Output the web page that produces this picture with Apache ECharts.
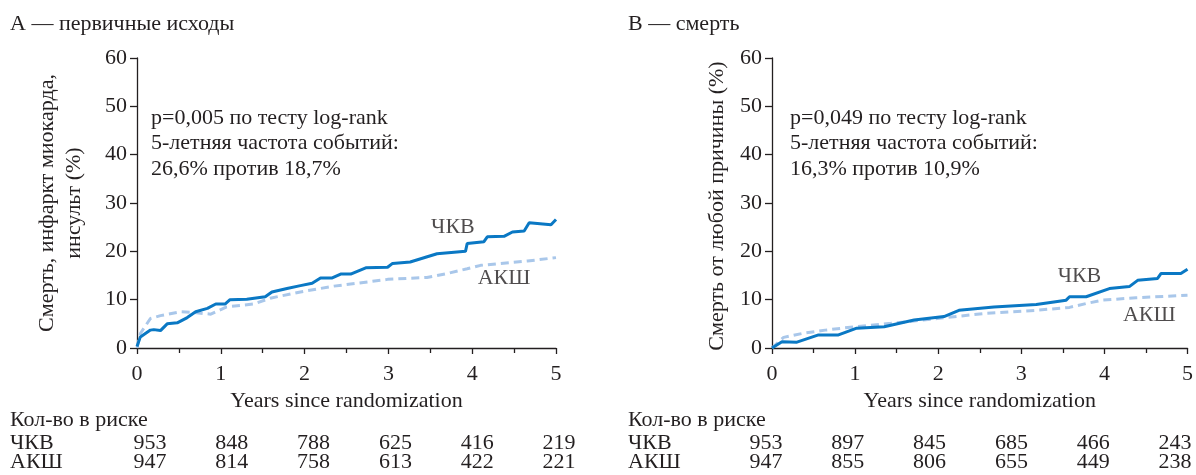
<!DOCTYPE html>
<html>
<head>
<meta charset="utf-8">
<script src="https://cdn.jsdelivr.net/npm/echarts@6/dist/echarts.min.js"></script>
<style>
  html, body { margin: 0; padding: 0; background: #ffffff; }
  #chart { width: 1196px; height: 475px; }
</style>
</head>
<body>
<div id="chart"></div>
<script>
// Cumulative incidence curves, [years, percent]
const pciPrimary = [
  [0, 0.3], [0.04, 2.3], [0.16, 3.7], [0.2, 3.8], [0.28, 3.6], [0.36, 5.0], [0.48, 5.2],
  [0.6, 6.3], [0.7, 7.5], [0.84, 8.2], [0.94, 9.1], [1.05, 9.1], [1.11, 10.0], [1.31, 10.1],
  [1.53, 10.6], [1.61, 11.6], [1.79, 12.3], [1.95, 12.9], [2.09, 13.4], [2.19, 14.5],
  [2.33, 14.5], [2.43, 15.3], [2.55, 15.3], [2.73, 16.6], [2.99, 16.7], [3.05, 17.5],
  [3.26, 17.8], [3.58, 19.5], [3.92, 20.0], [3.94, 21.6], [4.14, 22.0], [4.18, 23.0],
  [4.38, 23.1], [4.48, 24.0], [4.62, 24.2], [4.68, 25.9], [4.94, 25.5], [5.0, 26.6]
];
const cabgPrimary = [
  [0, 0], [0.04, 3.0], [0.16, 6.1], [0.28, 6.7], [0.52, 7.5], [0.64, 7.4], [0.88, 7.0],
  [1.07, 8.5], [1.39, 9.1], [1.59, 10.3], [1.95, 11.6], [2.35, 12.8], [2.99, 14.2],
  [3.46, 14.6], [3.70, 15.4], [3.94, 16.4], [4.1, 17.1], [4.34, 17.5], [4.66, 18.0], [5.0, 18.7]
];
const pciDeath = [
  [0, 0], [0.12, 1.3], [0.3, 1.2], [0.56, 2.7], [0.8, 2.7], [1.02, 4.1], [1.35, 4.4],
  [1.71, 5.8], [2.07, 6.5], [2.25, 7.8], [2.67, 8.5], [3.18, 9.0], [3.54, 9.9], [3.58, 10.6],
  [3.78, 10.6], [4.06, 12.3], [4.3, 12.7], [4.4, 14.0], [4.64, 14.4], [4.68, 15.4],
  [4.92, 15.4], [5.0, 16.3]
];
const cabgDeath = [
  [0, 0], [0.14, 2.2], [0.36, 3.0], [0.64, 3.7], [1.0, 4.4], [1.43, 5.1], [1.99, 6.1],
  [2.59, 7.2], [3.18, 7.8], [3.58, 8.4], [3.78, 9.2], [3.98, 9.9], [4.38, 10.4], [5.0, 10.9]
];

// Curve name labels placed in data coordinates
const groupNames = ['ЧКВ', 'АКШ'];
const nameSpotsPrimary = [[3.77, 25.0], [4.38, 14.5]];
const nameSpotsDeath = [[3.70, 14.9], [4.54, 6.8]];

// Panel headings and statistics notes
const panelTitles = ['А — первичные исходы', 'В — смерть'];
const yTitles = ['Смерть, инфаркт миокарда,\nинсульт (%)', 'Смерть от любой причины (%)'];
const notesPrimary = ['p=0,005 по тесту log-rank', '5-летняя частота событий:', '26,6% против 18,7%'];
const notesDeath = ['p=0,049 по тесту log-rank', '5-летняя частота событий:', '16,3% против 10,9%'];

// Number at risk by year 0..5
const riskHeader = 'Кол-во в риске';
const riskPciPrimary = [953, 848, 788, 625, 416, 219];
const riskCabgPrimary = [947, 814, 758, 613, 422, 221];
const riskPciDeath = [953, 897, 845, 685, 466, 243];
const riskCabgDeath = [947, 855, 806, 655, 449, 238];

const FONT = '"Liberation Serif", "DejaVu Serif", serif';
const INK = '#231f20';
const SOLID = '#0a78c4';
const DASHED = '#a9c7ea';

const chart = echarts.init(document.getElementById('chart'), null, { renderer: 'canvas' });

const grids = [
  { left: 137, top: 58, width: 419, height: 290 },
  { left: 772, top: 58, width: 419, height: 290 }
];

function xAxisFor(i) {
  return {
    gridIndex: i, type: 'value', min: 0, max: 5, interval: 1,
    name: 'Years since randomization', nameLocation: 'middle', nameGap: 37,
    nameTextStyle: { fontFamily: FONT, fontSize: 22, color: INK },
    axisLine: { lineStyle: { color: INK, width: 1.3 } },
    axisTick: { show: true, inside: false, length: 6, lineStyle: { color: INK, width: 1.3 } },
    minorTick: { show: true, splitNumber: 2, length: 5, lineStyle: { color: INK, width: 1.3 } },
    axisLabel: { fontFamily: FONT, fontSize: 22, color: INK, margin: 15 },
    splitLine: { show: false }, minorSplitLine: { show: false }
  };
}
function yAxisFor(i) {
  return {
    gridIndex: i, type: 'value', min: 0, max: 60, interval: 10,
    axisLine: { show: true, lineStyle: { color: INK, width: 1.3 } },
    axisTick: { show: true, inside: false, length: 7, lineStyle: { color: INK, width: 1.3 } },
    axisLabel: { fontFamily: FONT, fontSize: 22, color: INK, margin: 10 },
    splitLine: { show: false }
  };
}

function curve(data, i, dashed) {
  return {
    type: 'line', xAxisIndex: i, yAxisIndex: i, data: data,
    showSymbol: false, silent: true, smooth: false,
    lineStyle: dashed
      ? { color: DASHED, width: 3, type: [8, 5] }
      : { color: SOLID, width: 3 },
    z: dashed ? 2 : 3
  };
}
function nameLabels(spots, i) {
  return {
    type: 'scatter', xAxisIndex: i, yAxisIndex: i, symbolSize: 0, silent: true,
    data: spots.map((p, k) => ({ value: p, name: groupNames[k] })),
    label: {
      show: true, position: 'inside', formatter: '{b}',
      fontFamily: FONT, fontSize: 22, color: INK
    }
  };
}

const graphics = [];
function addText(x, y, text, opts) {
  graphics.push(Object.assign({
    type: 'text', x: x, y: y,
    style: Object.assign({ text: text, fontFamily: FONT, fontSize: 22, fill: INK,
      textAlign: 'left', textVerticalAlign: 'middle' }, opts || {})
  }));
}

// Panel headings
addText(10, 24, panelTitles[0]);
addText(628, 24, panelTitles[1]);

// Rotated axis titles
graphics.push({
  type: 'text', x: 61, y: 203, rotation: Math.PI / 2,
  style: { text: yTitles[0], fontFamily: FONT, fontSize: 22, fill: INK,
    textAlign: 'center', textVerticalAlign: 'middle', lineHeight: 27 }
});
graphics.push({
  type: 'text', x: 717, y: 206, rotation: Math.PI / 2,
  style: { text: yTitles[1], fontFamily: FONT, fontSize: 22, fill: INK,
    textAlign: 'center', textVerticalAlign: 'middle' }
});

// Statistics notes
notesPrimary.forEach((t, k) => addText(151, 118 + k * 25.5, t));
notesDeath.forEach((t, k) => addText(790, 118 + k * 25.5, t));

// Number-at-risk tables
function riskTable(x0, startX, rows) {
  addText(x0, 420, riskHeader);
  rows.forEach((r, ri) => {
    const y = 443 + ri * 19.5;
    addText(x0, y, groupNames[ri]);
    r.values.forEach((v, k) => addText(startX + k * 81.8, y, String(v), { textAlign: 'center' }));
  });
}
riskTable(10, 150, [{ values: riskPciPrimary }, { values: riskCabgPrimary }]);
riskTable(628, 766, [{ values: riskPciDeath }, { values: riskCabgDeath }]);

chart.setOption({
  animation: false,
  backgroundColor: '#ffffff',
  grid: grids,
  xAxis: [xAxisFor(0), xAxisFor(1)],
  yAxis: [yAxisFor(0), yAxisFor(1)],
  series: [
    curve(cabgPrimary, 0, true),
    curve(pciPrimary, 0, false),
    curve(cabgDeath, 1, true),
    curve(pciDeath, 1, false),
    nameLabels(nameSpotsPrimary, 0),
    nameLabels(nameSpotsDeath, 1)
  ],
  graphic: graphics
});
</script>
</body>
</html>
